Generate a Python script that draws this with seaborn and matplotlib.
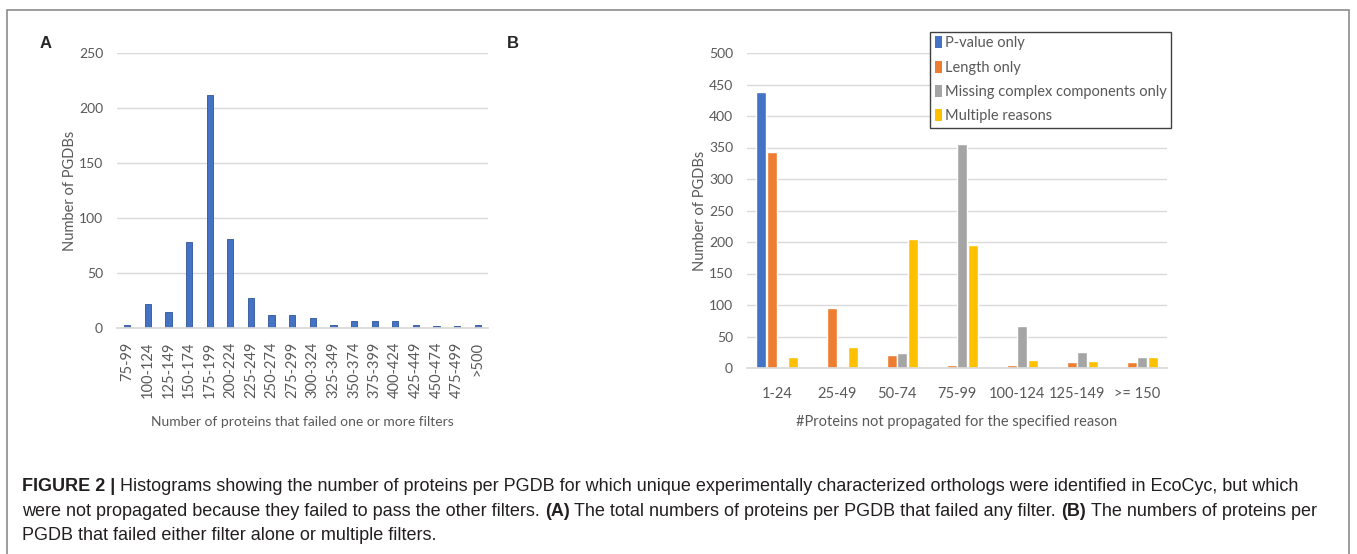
import numpy as np
import pandas as pd
import matplotlib
matplotlib.use('Agg')
import matplotlib.pyplot as plt
import seaborn as sns
from matplotlib.patches import Rectangle
from matplotlib.patches import Patch

# Panel A data
bins_a = ['75-99', '100-124', '125-149', '150-174', '175-199', '200-224', '225-249',
          '250-274', '275-299', '300-324', '325-349', '350-374', '375-399', '400-424',
          '425-449', '450-474', '475-499', '>500']
counts_a = [3, 22, 15, 78, 212, 81, 27, 12, 12, 9, 3, 6, 6, 6, 3, 2, 2, 3]

# Panel B data
bins_b = ['1-24', '25-49', '50-74', '75-99', '100-124', '125-149', '>= 150']
reasons = ['P-value only', 'Length only', 'Missing complex components only', 'Multiple reasons']
pvalue_only = [438, 0, 0, 0, 0, 0, 0]
length_only = [343, 95, 21, 5, 5, 10, 10]
missing_only = [0, 0, 24, 356, 66, 26, 18]
multiple = [18, 34, 204, 196, 13, 11, 18]
colors_b = ['#4472C4', '#ED7D31', '#A5A5A5', '#FFC000']

df_b = pd.DataFrame({
    'bin': bins_b * 4,
    'reason': np.repeat(reasons, len(bins_b)),
    'count': pvalue_only + length_only + missing_only + multiple,
})

sns.set_theme(style='white')
plt.rcParams['font.family'] = ['Lato', 'DejaVu Sans']

W, H = 1357, 554
fig = plt.figure(figsize=(W / 100, H / 100), dpi=100)
grey = '#595959'
grid_c = '#D9D9D9'

def px_axes(x0, y0, x1, y1):
    return fig.add_axes([x0 / W, 1 - y1 / H, (x1 - x0) / W, (y1 - y0) / H])

def style_axes(ax):
    for s in ['top', 'right', 'left']:
        ax.spines[s].set_visible(False)
    ax.spines['bottom'].set_color(grid_c)
    ax.yaxis.grid(True, color=grid_c, lw=1)
    ax.set_axisbelow(True)
    ax.tick_params(axis='y', length=0, pad=10, labelsize=10, labelcolor=grey)

# ---- Panel A
ax_a = px_axes(117, 53, 488, 328)
sns.barplot(x=bins_a, y=counts_a, color='#4472C4', width=0.3, saturation=1,
            edgecolor='#2F5597', linewidth=0.6, ax=ax_a)
style_axes(ax_a)
ax_a.set_ylim(0, 250)
ax_a.set_yticks(range(0, 251, 50))
ax_a.set_xlim(-0.5, len(bins_a) - 0.5)
ax_a.tick_params(axis='x', length=0, pad=10, labelsize=10.5, labelcolor=grey, rotation=90)
ax_a.set_ylabel('Number of PGDBs', fontsize=10.5, color=grey, labelpad=1)
ax_a.set_xlabel('Number of proteins that failed one or more filters', fontsize=10,
                color=grey, labelpad=13)

# ---- Panel B
ax_b = px_axes(747, 53, 1167, 368)
sns.barplot(data=df_b, x='bin', y='count', hue='reason', hue_order=reasons,
            palette=colors_b, width=0.72, gap=0.08, saturation=1, ax=ax_b, legend=False)
style_axes(ax_b)
ax_b.set_ylim(0, 500)
ax_b.set_yticks(range(0, 501, 50))
ax_b.set_xlim(-0.5, len(bins_b) - 0.5)
ax_b.tick_params(axis='x', length=0, pad=14, labelsize=10.5, labelcolor=grey)
ax_b.set_ylabel('Number of PGDBs', fontsize=10.5, color=grey, labelpad=1)
ax_b.set_xlabel('#Proteins not propagated for the specified reason', fontsize=10.5,
                color=grey, labelpad=10)

handles = [Patch(facecolor=c, edgecolor='none') for c in colors_b]
leg = ax_b.legend(handles, reasons, loc='upper right',
                  bbox_to_anchor=(1171 / W, 1 - 32 / H), bbox_transform=fig.transFigure,
                  fontsize=10.5, frameon=True, fancybox=False, framealpha=1,
                  edgecolor='#404040', handlelength=0.5, handleheight=0.9,
                  handletextpad=0.2, labelspacing=0.7, borderpad=0.3, borderaxespad=0)
leg.get_frame().set_linewidth(1)
for t in leg.get_texts():
    t.set_color(grey)

# panel letters
fig.text(40 / W, 1 - 43 / H, 'A', fontsize=12, fontweight='bold', va='center',
         family=['Liberation Sans', 'DejaVu Sans'])
fig.text(507 / W, 1 - 43 / H, 'B', fontsize=12, fontweight='bold', va='center',
         family=['Liberation Sans', 'DejaVu Sans'])

# frame
fig.patches.append(Rectangle((7 / W, -0.05), (1349 - 7) / W, 1.05 - 10 / H,
                             transform=fig.transFigure, fill=False,
                             edgecolor='#8C8C8C', lw=1.2))

# caption with bold pieces
cap_font = ['Liberation Sans', 'DejaVu Sans']
cap_size = 13
renderer = fig.canvas.get_renderer()

def text_width(s, weight):
    t = fig.text(0, 0, s, fontsize=cap_size, fontweight=weight, family=cap_font)
    w = t.get_window_extent(renderer).width
    t.remove()
    return w

space_w = text_width('a a', 'normal') - text_width('aa', 'normal')

def rich_line(x, y, parts):
    for s, w in parts:
        t = fig.text(x / W, 1 - y / H, s, fontsize=cap_size, fontweight=w, family=cap_font,
                     color='#231F20', va='baseline')
        x += t.get_window_extent(renderer).width + space_w

caption = [
    [('FIGURE 2 |', 'bold'),
     ('Histograms showing the number of proteins per PGDB for which unique experimentally '
      'characterized orthologs were identified in EcoCyc, but which', 'normal')],
    [('were not propagated because they failed to pass the other filters.', 'normal'),
     ('(A)', 'bold'),
     ('The total numbers of proteins per PGDB that failed any filter.', 'normal'),
     ('(B)', 'bold'),
     ('The numbers of proteins per', 'normal')],
    [('PGDB that failed either filter alone or multiple filters.', 'normal')],
]
for i, parts in enumerate(caption):
    rich_line(22, 491 + i * 24.7, parts)

fig.savefig('out.png', dpi=100)
